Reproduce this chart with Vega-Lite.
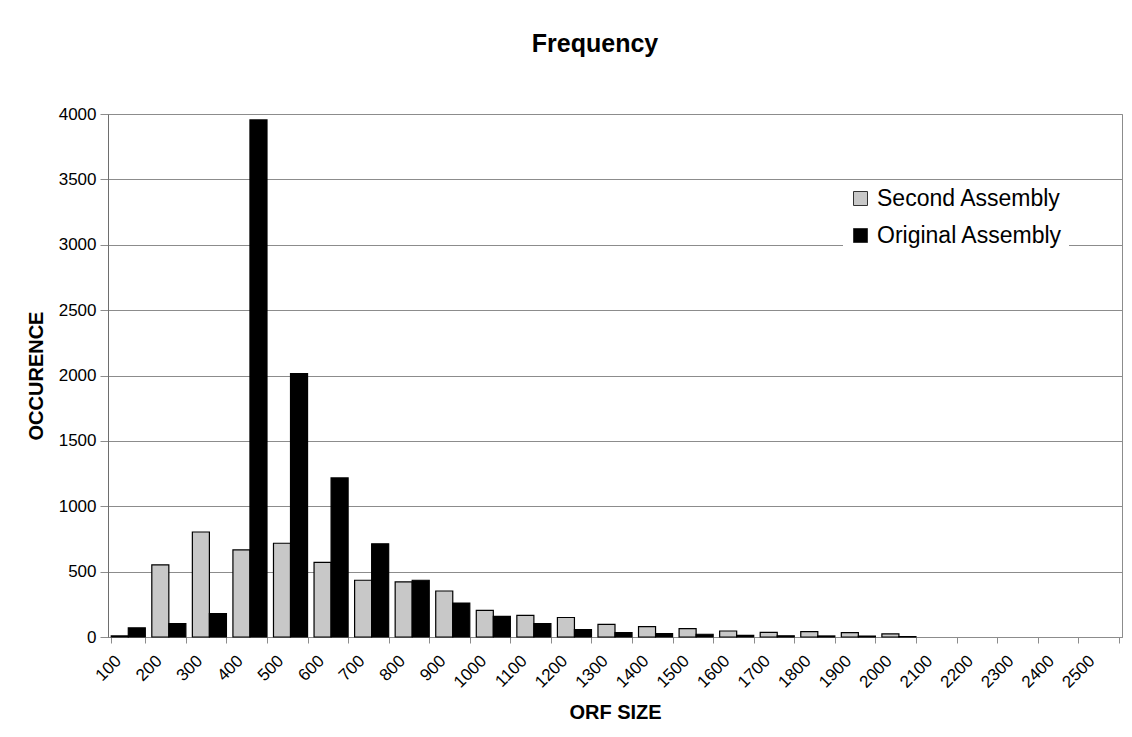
{
  "$schema": "https://vega.github.io/schema/vega-lite/v6.json",
  "autosize": {"type": "none"},
  "width": 1014,
  "height": 523,
  "padding": {"left": 108, "top": 114, "right": 10, "bottom": 100},
  "background": "white",
  "config": {
    "font": "Liberation Sans",
    "view": {"stroke": "#8c8c8c", "strokeWidth": 1}
  },
  "title": {
    "text": "Frequency",
    "font": "Liberation Sans",
    "fontSize": 25,
    "fontWeight": "bold",
    "color": "#000000",
    "anchor": "middle",
    "baseline": "alphabetic",
    "offset": 28,
    "dx": -20
  },
  "data": {
    "values": [
      {"size": "100", "series": "Second Assembly", "count": 8},
      {"size": "100", "series": "Original Assembly", "count": 70},
      {"size": "200", "series": "Second Assembly", "count": 552},
      {"size": "200", "series": "Original Assembly", "count": 102},
      {"size": "300", "series": "Second Assembly", "count": 803},
      {"size": "300", "series": "Original Assembly", "count": 179},
      {"size": "400", "series": "Second Assembly", "count": 666},
      {"size": "400", "series": "Original Assembly", "count": 3955},
      {"size": "500", "series": "Second Assembly", "count": 717},
      {"size": "500", "series": "Original Assembly", "count": 2015},
      {"size": "600", "series": "Second Assembly", "count": 570},
      {"size": "600", "series": "Original Assembly", "count": 1217},
      {"size": "700", "series": "Second Assembly", "count": 434},
      {"size": "700", "series": "Original Assembly", "count": 713},
      {"size": "800", "series": "Second Assembly", "count": 421},
      {"size": "800", "series": "Original Assembly", "count": 434},
      {"size": "900", "series": "Second Assembly", "count": 352},
      {"size": "900", "series": "Original Assembly", "count": 260},
      {"size": "1000", "series": "Second Assembly", "count": 204},
      {"size": "1000", "series": "Original Assembly", "count": 158},
      {"size": "1100", "series": "Second Assembly", "count": 166},
      {"size": "1100", "series": "Original Assembly", "count": 103},
      {"size": "1200", "series": "Second Assembly", "count": 149},
      {"size": "1200", "series": "Original Assembly", "count": 57},
      {"size": "1300", "series": "Second Assembly", "count": 97},
      {"size": "1300", "series": "Original Assembly", "count": 34},
      {"size": "1400", "series": "Second Assembly", "count": 80},
      {"size": "1400", "series": "Original Assembly", "count": 26},
      {"size": "1500", "series": "Second Assembly", "count": 64},
      {"size": "1500", "series": "Original Assembly", "count": 21},
      {"size": "1600", "series": "Second Assembly", "count": 46},
      {"size": "1600", "series": "Original Assembly", "count": 13},
      {"size": "1700", "series": "Second Assembly", "count": 36},
      {"size": "1700", "series": "Original Assembly", "count": 9},
      {"size": "1800", "series": "Second Assembly", "count": 41},
      {"size": "1800", "series": "Original Assembly", "count": 8},
      {"size": "1900", "series": "Second Assembly", "count": 34},
      {"size": "1900", "series": "Original Assembly", "count": 7},
      {"size": "2000", "series": "Second Assembly", "count": 24},
      {"size": "2000", "series": "Original Assembly", "count": 3}
    ]
  },
  "mark": {"type": "bar", "stroke": "#000000", "strokeWidth": 1.2},
  "encoding": {
    "x": {
      "field": "size",
      "type": "nominal",
      "sort": null,
      "scale": {
        "domain": ["100","200","300","400","500","600","700","800","900","1000","1100","1200","1300","1400","1500","1600","1700","1800","1900","2000","2100","2200","2300","2400","2500"],
        "paddingInner": 0.16,
        "paddingOuter": 0.08
      },
      "axis": {
        "title": "ORF SIZE",
        "titleFont": "Liberation Sans",
        "titleFontSize": 20,
        "titleFontWeight": "bold",
        "titleColor": "#000000",
        "titleBaseline": "alphabetic",
        "titleY": 81,
        "labelAngle": -45,
        "labelAlign": "right",
        "labelBaseline": "middle",
        "labelFontSize": 17,
        "labelColor": "#000000",
        "labelOffset": -10,
        "labelPadding": 15,
        "tickBand": "extent",
        "tickSize": 6,
        "tickColor": "#8c8c8c",
        "domainColor": "#8c8c8c",
        "grid": false
      }
    },
    "xOffset": {
      "field": "series",
      "type": "nominal",
      "scale": {"domain": ["Second Assembly", "Original Assembly"]}
    },
    "y": {
      "field": "count",
      "type": "quantitative",
      "scale": {"domain": [0, 4000], "nice": false},
      "axis": {
        "title": "OCCURENCE",
        "titleFont": "Liberation Sans",
        "titleFontSize": 20,
        "titleFontWeight": "bold",
        "titleColor": "#000000",
        "titleX": -72,
        "titleBaseline": "middle",
        "values": [0, 500, 1000, 1500, 2000, 2500, 3000, 3500, 4000],
        "format": "d",
        "labelFontSize": 17,
        "labelColor": "#000000",
        "labelPadding": 4,
        "tickSize": 8,
        "tickColor": "#8c8c8c",
        "domainColor": "#6e6e6e",
        "gridColor": "#8c8c8c",
        "gridWidth": 1
      }
    },
    "color": {
      "field": "series",
      "type": "nominal",
      "scale": {
        "domain": ["Second Assembly", "Original Assembly"],
        "range": ["#c8c8c8", "#000000"]
      },
      "legend": {
        "title": null,
        "orient": "none",
        "legendX": 735,
        "legendY": 67,
        "fillColor": "#ffffff",
        "padding": 6,
        "labelFontSize": 23,
        "labelFont": "Liberation Sans",
        "labelColor": "#000000",
        "labelLimit": 400,
        "labelOffset": 5,
        "symbolType": "square",
        "symbolSize": 196,
        "symbolStrokeColor": "#333333",
        "symbolStrokeWidth": 1,
        "rowPadding": 13
      }
    }
  }
}
